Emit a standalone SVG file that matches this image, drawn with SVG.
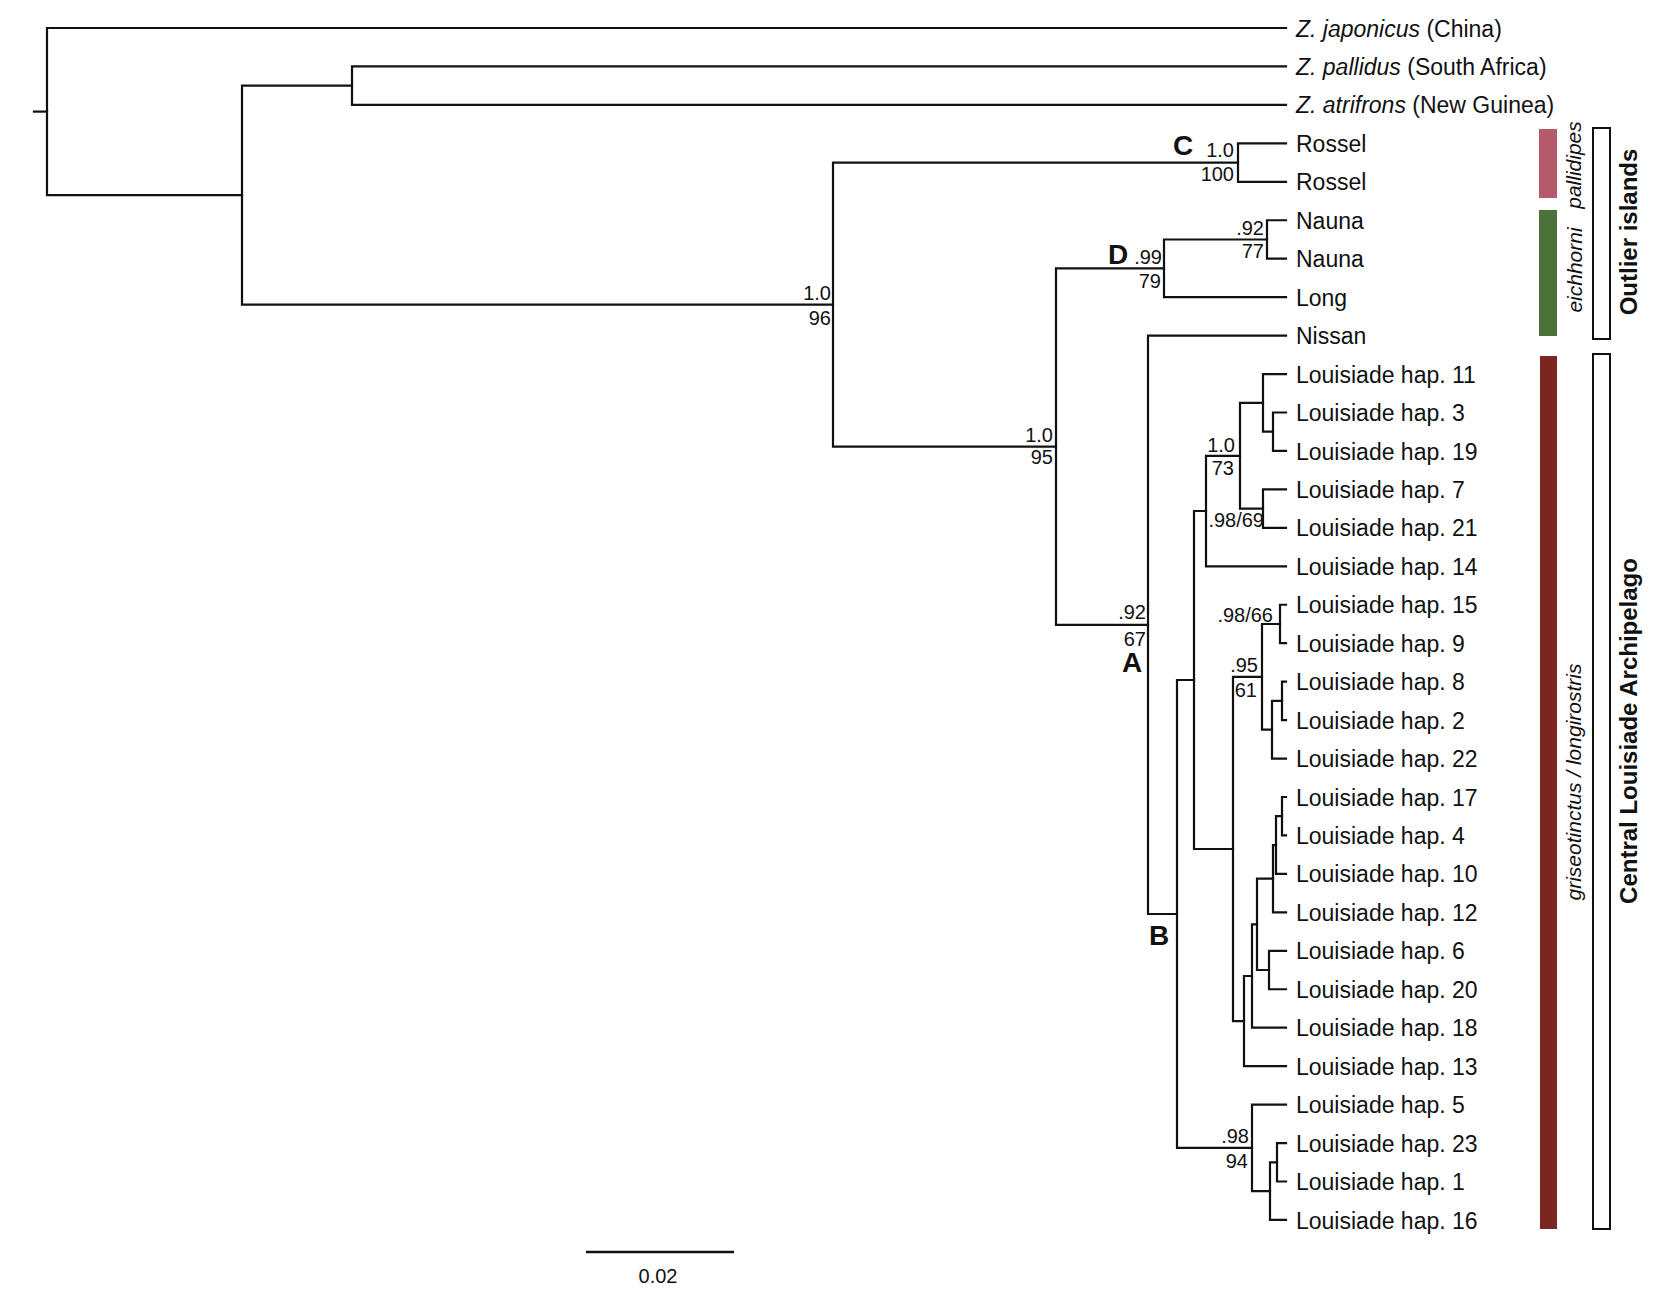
<svg xmlns="http://www.w3.org/2000/svg" width="1666" height="1300" viewBox="0 0 1666 1300">
<style>
  .br{fill:none;stroke:#111;stroke-width:2.2;stroke-linecap:square}
  .leaf{font-family:"Liberation Sans",Arial,sans-serif;font-size:23px;fill:#111}
  .sup{font-family:"Liberation Sans",Arial,sans-serif;font-size:20px;fill:#111;text-anchor:end}
  .cl{font-family:"Liberation Sans",Arial,sans-serif;font-size:28px;font-weight:bold;fill:#111}
  .sp{font-family:"Liberation Sans",Arial,sans-serif;font-size:21px;font-style:italic;fill:#111;text-anchor:middle}
  .grp{font-family:"Liberation Sans",Arial,sans-serif;font-size:24px;font-weight:bold;fill:#111;text-anchor:middle}
  .box{fill:none;stroke:#111;stroke-width:2}
</style>
<rect width="1666" height="1300" fill="#fff"/>
<g id="connectors">
  <path class="br" d="M34,111.6 H47"/>
  <path class="br" d="M1286,28 H47 V195.1 H242"/>
  <path class="br" d="M352,85.7 H242 V304.6 H833"/>
  <path class="br" d="M1286,66.45 H352 V104.9 H1286"/>
  <path class="br" d="M1238,162.6 H833 V446.6 H1056"/>
  <path class="br" d="M1286,143.35 H1238 V181.8 H1286"/>
  <path class="br" d="M1164,268.3 H1056 V624.8 H1148"/>
  <path class="br" d="M1267,239.5 H1164 V297.15 H1286"/>
  <path class="br" d="M1286,220.25 H1267 V258.7 H1286"/>
  <path class="br" d="M1286,335.6 H1148 V914 H1177"/>
  <path class="br" d="M1194,680 H1177 V1147.9 H1252"/>
  <path class="br" d="M1206,511 H1194 V849 H1233"/>
  <path class="br" d="M1240,455.8 H1206 V566.3 H1286"/>
  <path class="br" d="M1263,402.9 H1240 V508.6 H1263"/>
  <path class="br" d="M1286,374.05 H1263 V431.7 H1273"/>
  <path class="br" d="M1286,412.5 H1273 V450.95 H1286"/>
  <path class="br" d="M1286,489.4 H1263 V527.85 H1286"/>
  <path class="br" d="M1262,676.9 H1233 V1021.1 H1244"/>
  <path class="br" d="M1280,624 H1262 V729.7 H1272"/>
  <path class="br" d="M1286,604.75 H1280 V643.2 H1286"/>
  <path class="br" d="M1282,700.9 H1272 V758.55 H1286"/>
  <path class="br" d="M1286,681.65 H1282 V720.1 H1286"/>
  <path class="br" d="M1252,976 H1244 V1066.15 H1286"/>
  <path class="br" d="M1257,924.35 H1252 V1027.7 H1286"/>
  <path class="br" d="M1273,878.7 H1257 V970 H1269"/>
  <path class="br" d="M1276,845.05 H1273 V912.35 H1286"/>
  <path class="br" d="M1282,816.2 H1276 V873.9 H1286"/>
  <path class="br" d="M1286,797 H1282 V835.45 H1286"/>
  <path class="br" d="M1286,950.8 H1269 V989.25 H1286"/>
  <path class="br" d="M1286,1104.6 H1252 V1191.1 H1270"/>
  <path class="br" d="M1277,1162.3 H1270 V1219.95 H1286"/>
  <path class="br" d="M1286,1143.05 H1277 V1181.5 H1286"/>
</g>
<g id="support">
  <text class="sup" x="831" y="300">1.0</text><text class="sup" x="831" y="325">96</text>
  <text class="sup" x="1053" y="442">1.0</text><text class="sup" x="1053" y="464">95</text>
  <text class="sup" x="1234" y="157">1.0</text><text class="sup" x="1234" y="181">100</text>
  <text class="sup" x="1264" y="235">.92</text><text class="sup" x="1264" y="258">77</text>
  <text class="sup" x="1162" y="264">.99</text><text class="sup" x="1161" y="288">79</text>
  <text class="sup" x="1146" y="619">.92</text><text class="sup" x="1146" y="646">67</text>
  <text class="sup" x="1235" y="452">1.0</text><text class="sup" x="1234" y="475">73</text>
  <text class="sup" x="1264" y="527">.98/69</text>
  <text class="sup" x="1273" y="622">.98/66</text>
  <text class="sup" x="1258" y="672">.95</text><text class="sup" x="1257" y="697">61</text>
  <text class="sup" x="1249" y="1143">.98</text><text class="sup" x="1248" y="1168">94</text>
</g>
<g id="clade-labels">
  <text class="cl" x="1173" y="155">C</text>
  <text class="cl" x="1108" y="264">D</text>
  <text class="cl" x="1122" y="672">A</text>
  <text class="cl" x="1149" y="945">B</text>
</g>
<g id="leaves" class="leaf">
  <g id="t-japonicus"><text x="1296" y="36.5"><tspan font-style="italic">Z. japonicus</tspan> (China)</text></g>
  <g id="t-pallidus"><text x="1296" y="75"><tspan font-style="italic">Z. pallidus</tspan> (South Africa)</text></g>
  <g id="t-atrifrons"><text x="1296" y="113.4"><tspan font-style="italic">Z. atrifrons</tspan> (New Guinea)</text></g>
  <g id="t-rossel1"><text x="1296" y="151.9">Rossel</text></g>
  <g id="t-rossel2"><text x="1296" y="190.3">Rossel</text></g>
  <g id="t-nauna1"><text x="1296" y="228.8">Nauna</text></g>
  <g id="t-nauna2"><text x="1296" y="267.2">Nauna</text></g>
  <g id="t-long"><text x="1296" y="305.7">Long</text></g>
  <g id="t-nissan"><text x="1296" y="344.1">Nissan</text></g>
  <g id="t-h11"><text x="1296" y="382.6">Louisiade hap. 11</text></g>
  <g id="t-h3"><text x="1296" y="421">Louisiade hap. 3</text></g>
  <g id="t-h19"><text x="1296" y="459.5">Louisiade hap. 19</text></g>
  <g id="t-h7"><text x="1296" y="497.9">Louisiade hap. 7</text></g>
  <g id="t-h21"><text x="1296" y="536.4">Louisiade hap. 21</text></g>
  <g id="t-h14"><text x="1296" y="574.8">Louisiade hap. 14</text></g>
  <g id="t-h15"><text x="1296" y="613.3">Louisiade hap. 15</text></g>
  <g id="t-h9"><text x="1296" y="651.7">Louisiade hap. 9</text></g>
  <g id="t-h8"><text x="1296" y="690.2">Louisiade hap. 8</text></g>
  <g id="t-h2"><text x="1296" y="728.6">Louisiade hap. 2</text></g>
  <g id="t-h22"><text x="1296" y="767.1">Louisiade hap. 22</text></g>
  <g id="t-h17"><text x="1296" y="805.5">Louisiade hap. 17</text></g>
  <g id="t-h4"><text x="1296" y="844">Louisiade hap. 4</text></g>
  <g id="t-h10"><text x="1296" y="882.4">Louisiade hap. 10</text></g>
  <g id="t-h12"><text x="1296" y="920.9">Louisiade hap. 12</text></g>
  <g id="t-h6"><text x="1296" y="959.3">Louisiade hap. 6</text></g>
  <g id="t-h20"><text x="1296" y="997.8">Louisiade hap. 20</text></g>
  <g id="t-h18"><text x="1296" y="1036.2">Louisiade hap. 18</text></g>
  <g id="t-h13"><text x="1296" y="1074.7">Louisiade hap. 13</text></g>
  <g id="t-h5"><text x="1296" y="1113.1">Louisiade hap. 5</text></g>
  <g id="t-h23"><text x="1296" y="1151.6">Louisiade hap. 23</text></g>
  <g id="t-h1"><text x="1296" y="1190">Louisiade hap. 1</text></g>
  <g id="t-h16"><text x="1296" y="1228.5">Louisiade hap. 16</text></g>
</g>
<g id="bar-pallidipes">
  <rect x="1539" y="129" width="18" height="69" fill="#b55a6b"/>
  <text class="sp" transform="translate(1581,165) rotate(-90)">pallidipes</text>
</g>
<g id="bar-eichhorni">
  <rect x="1539" y="210" width="18" height="126" fill="#4b7339"/>
  <text class="sp" transform="translate(1582,270) rotate(-90)">eichhorni</text>
</g>
<g id="bar-griseotinctus">
  <rect x="1540" y="356" width="17" height="873" fill="#7b2620"/>
  <text class="sp" transform="translate(1581,782) rotate(-90)">griseotinctus / longirostris</text>
</g>
<g id="box-outlier">
  <rect class="box" x="1593" y="128" width="17" height="211"/>
  <text class="grp" transform="translate(1637,232) rotate(-90)">Outlier islands</text>
</g>
<g id="box-central">
  <rect class="box" x="1593" y="354" width="17" height="875"/>
  <text class="grp" transform="translate(1637,731) rotate(-90)">Central Louisiade Archipelago</text>
</g>
<g id="scale">
  <path d="M586,1252 H734" stroke="#111" stroke-width="2.5" fill="none"/>
  <text x="658" y="1283" text-anchor="middle" font-family="Liberation Sans, Arial, sans-serif" font-size="20" fill="#111">0.02</text>
</g>
</svg>
